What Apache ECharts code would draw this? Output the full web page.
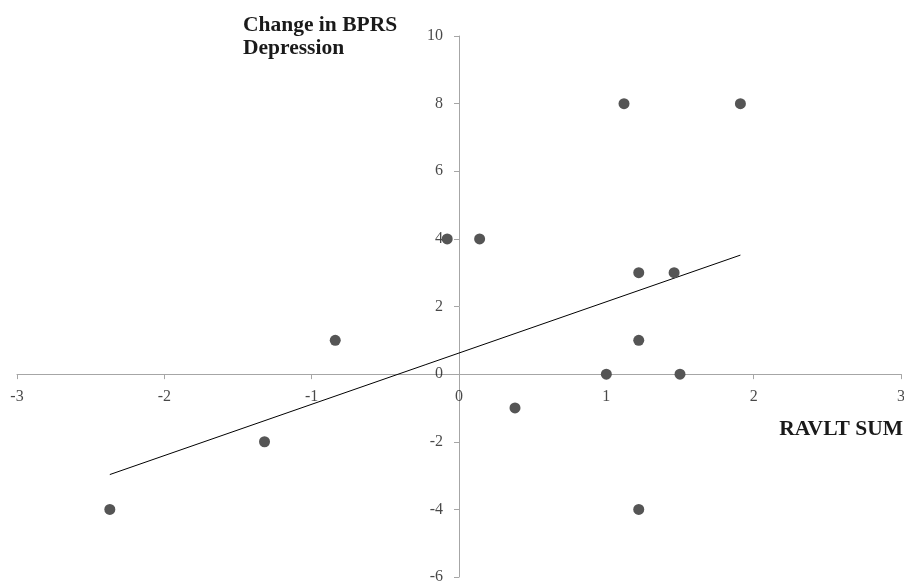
<!DOCTYPE html>
<html>
<head>
<meta charset="utf-8">
<script src="https://cdn.jsdelivr.net/npm/echarts@6/dist/echarts.min.js"></script>
<style>html,body{margin:0;padding:0;background:#fff}#c{width:904px;height:583px}</style>
</head>
<body>
<div id="c"></div>
<script>
const xValues = [-2.37, -1.32, -0.84, -0.08, 0.14, 0.38, 1.0, 1.12, 1.22, 1.22, 1.22, 1.46, 1.5, 1.91];
const yValues = [-4, -2, 1, 4, 4, -1, 0, 8, 3, 1, -4, 3, 0, 8];
const trendX = [-2.37, 1.91];
const trendY = [-2.97, 3.52];
const xTicks = [-3, -2, -1, 0, 1, 2, 3];
const yTicks = [-6, -4, -2, 0, 2, 4, 6, 8, 10];
const yAxisTitle = 'Change in BPRS\nDepression';
const xAxisTitle = 'RAVLT SUM';

const points = xValues.map((x, i) => [x, yValues[i]]);
const trend = trendX.map((x, i) => [x, trendY[i]]);
const font = 'Liberation Serif, Times New Roman, serif';
const axisGray = '#a6a6a6';
const labelColor = '#1a1a1a';

const chart = echarts.init(document.getElementById('c'), null, {renderer: 'canvas'});
chart.setOption({
  animation: false,
  backgroundColor: '#ffffff',
  grid: {left: 17, right: 3, top: 36, bottom: 6, containLabel: false, outerBoundsMode: 'none'},
  xAxis: {
    type: 'value', min: -3, max: 3, interval: 1,
    axisLine: {show: true, onZero: true, lineStyle: {color: axisGray, width: 1}},
    axisTick: {show: true, inside: false, length: 5, lineStyle: {color: axisGray}},
    axisLabel: {show: false},
    splitLine: {show: false}
  },
  yAxis: {
    type: 'value', min: -6, max: 10, interval: 2,
    axisLine: {show: true, onZero: true, lineStyle: {color: axisGray, width: 1}},
    axisTick: {show: true, inside: false, length: 5, lineStyle: {color: axisGray}},
    axisLabel: {show: false},
    splitLine: {show: false}
  },
  graphic: [
    {type: 'text', left: 243, top: 14, style: {text: yAxisTitle, font: 'bold 21.5px ' + font, fill: labelColor, lineHeight: 23}},
    {type: 'text', right: 1, top: 418, style: {text: xAxisTitle, font: 'bold 21.5px ' + font, fill: labelColor}}
  ],
  series: [
    {
      type: 'scatter', silent: true, symbolSize: 0, z: 1,
      data: xTicks.map(v => [v, 0]),
      label: {show: true, position: 'inside', offset: [0, 23], align: 'center', verticalAlign: 'middle',
        formatter: p => String(p.value[0]), fontFamily: font, fontSize: 16, color: labelColor}
    },
    {
      type: 'scatter', silent: true, symbolSize: 0, z: 1,
      data: yTicks.map(v => [0, v]),
      label: {show: true, position: 'inside', offset: [-16, 0], align: 'right', verticalAlign: 'middle',
        formatter: p => String(p.value[1]), fontFamily: font, fontSize: 16, color: labelColor}
    },
    {
      type: 'line', data: trend, symbol: 'none', silent: true,
      lineStyle: {color: '#000', width: 1}, z: 3
    },
    {
      type: 'scatter', data: points, symbol: 'circle', symbolSize: 11,
      itemStyle: {color: '#555555', opacity: 1}, z: 4
    }
  ]
});
</script>
</body>
</html>
